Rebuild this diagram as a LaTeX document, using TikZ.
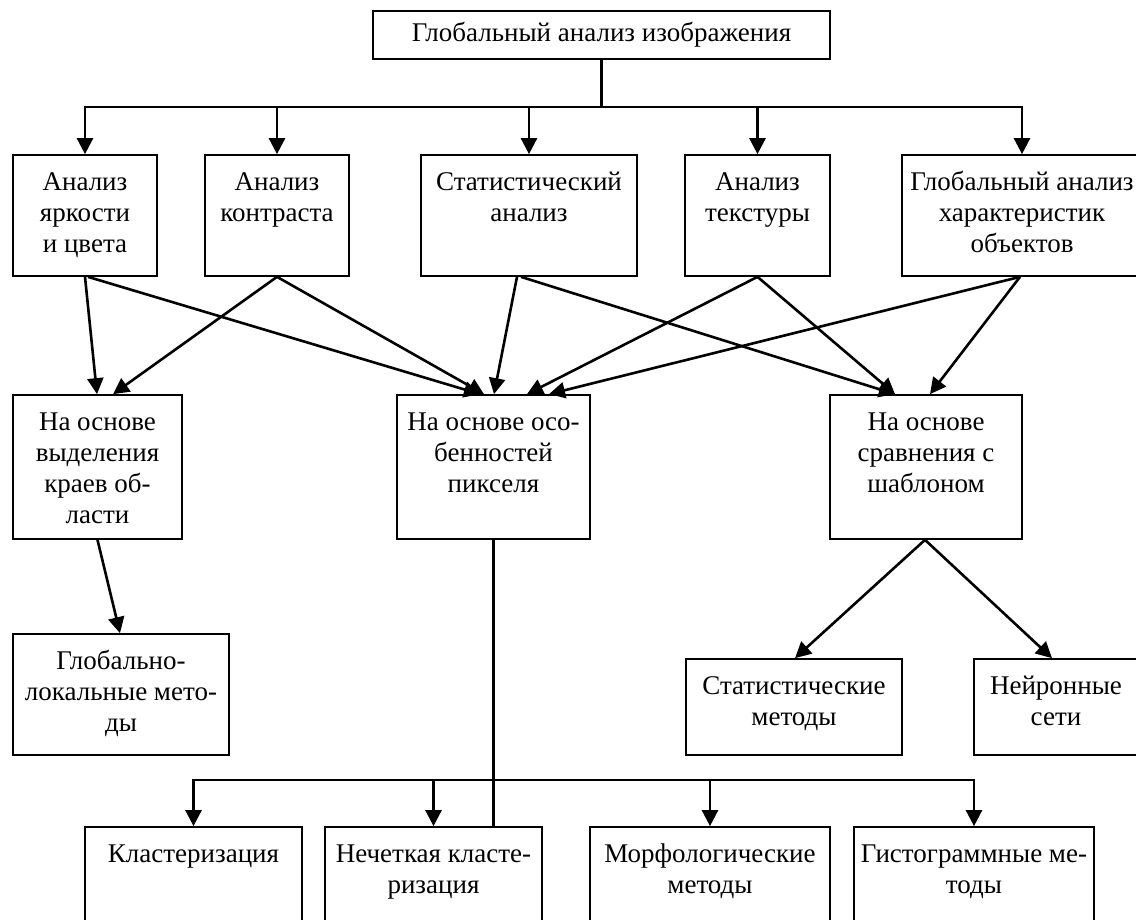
\documentclass[tikz,border=0pt]{standalone}
\usepackage{fontspec}
\setmainfont{Liberation Serif}
\usetikzlibrary{arrows.meta}
\newcommand{\bxt}[3]{\parbox[c][#2pt][t]{#1pt}{\centering\rule{0pt}{35pt}#3}}
\begin{document}
\begin{tikzpicture}[x=1pt,y=-1pt,
  box/.style={draw, line width=1.7pt, inner sep=0pt, font=\fontsize{27}{31}\selectfont},
  arr/.style={line width=2.6pt, -{Triangle[length=16pt,width=16pt]}},
  thinline/.style={line width=2.2pt}]
\useasboundingbox (0,0) rectangle (1136,919);
\clip (0,0) rectangle (1136,919);

% top
\node[box, minimum width=457pt, minimum height=48pt] (top) at (601.5,35) {Глобальный анализ изображения};

% row 2
\node[box] (b1) at (85,215.5)    {\bxt{144}{121}{Анализ\\яркости\\и цвета}};
\node[box] (b2) at (277,215.5)   {\bxt{144}{121}{Анализ\\контраста}};
\node[box] (b3) at (529,215.5)   {\bxt{216}{121}{Статистический\\анализ}};
\node[box] (b4) at (757.5,215.5) {\bxt{145}{121}{Анализ\\текстуры}};
\node[box] (b5) at (1022,215.5)  {\bxt{240}{121}{Глобальный анализ\\характеристик\\объектов}};

% row 3
\node[box] (c1) at (97.5,467)  {\bxt{169}{144}{На основе\\выделения\\краев об-\\ласти}};
\node[box] (c2) at (493.5,467) {\bxt{193}{144}{На основе осо-\\бенностей\\пикселя}};
\node[box] (c3) at (926,467)   {\bxt{192}{144}{На основе\\сравнения с\\шаблоном}};

% row 4
\node[box] (d1) at (121,694.5) {\bxt{216}{121}{Глобально-\\локальные мето-\\ды}};
\node[box] (d2) at (794,707)   {\bxt{216}{96}{Статистические\\методы}};
\node[box] (d3) at (1056,707)  {\bxt{164}{96}{Нейронные\\сети}};

% row 5
\node[box] (e1) at (193.5,887.5) {\bxt{217}{121}{Кластеризация}};
\node[box] (e2) at (433.5,887.5) {\bxt{217}{121}{Нечеткая класте-\\ризация}};
\node[box] (e3) at (710,887.5)   {\bxt{240}{121}{Морфологические\\методы}};
\node[box] (e4) at (974,887.5)   {\bxt{240}{121}{Гистограммные ме-\\тоды}};

% top bus
\coordinate (bus1) at (601.5,107);
\draw[line width=2.6pt] (top.south) -- (bus1);
\draw[arr] (bus1) -| (b1.north);
\draw[arr] (bus1) -| (b2.north);
\draw[arr] (bus1) -| (b3.north);
\draw[arr] (bus1) -| (b4.north);
\draw[arr] (bus1) -| (b5.north);

% cross connectors
\draw[arr] (b1.south) -- ([xshift=-0.5pt]c1.north);
\draw[arr] ([xshift=3pt]b1.south) -- ([xshift=-13.5pt]c2.north);
\draw[arr] (b2.south) -- ([xshift=15.5pt]c1.north);
\draw[arr] (b2.south) -- ([xshift=-9.5pt]c2.north);
\draw[arr] ([xshift=-12pt]b3.south) -- ([xshift=0.5pt]c2.north);
\draw[arr] ([xshift=-8pt]b3.south) -- ([xshift=-31pt]c3.north);
\draw[arr] (b4.south) -- ([xshift=33.5pt]c2.north);
\draw[arr] (b4.south) -- ([xshift=-31pt]c3.north);
\draw[arr] ([xshift=-2pt]b5.south) -- ([xshift=55.5pt]c2.north);
\draw[arr] ([xshift=-2pt]b5.south) -- ([xshift=4pt]c3.north);

% lower connectors
\draw[arr] (c1.south) -- ([xshift=-1pt]d1.north);
\draw[arr] ([xshift=-1pt]c3.south) -- ([xshift=1pt]d2.north);
\draw[arr] ([xshift=-1pt]c3.south) -- ([xshift=-4pt]d3.north);

% bottom bus
\draw[thinline] (c2.south) -- (c2.south |- e2.north);
\coordinate (bus2) at (493.5,780);
\draw[arr] (bus2) -| (e1.north);
\draw[arr] (bus2) -| (e2.north);
\draw[arr] (bus2) -| (e3.north);
\draw[arr] (bus2) -| (e4.north);
\end{tikzpicture}
\end{document}
